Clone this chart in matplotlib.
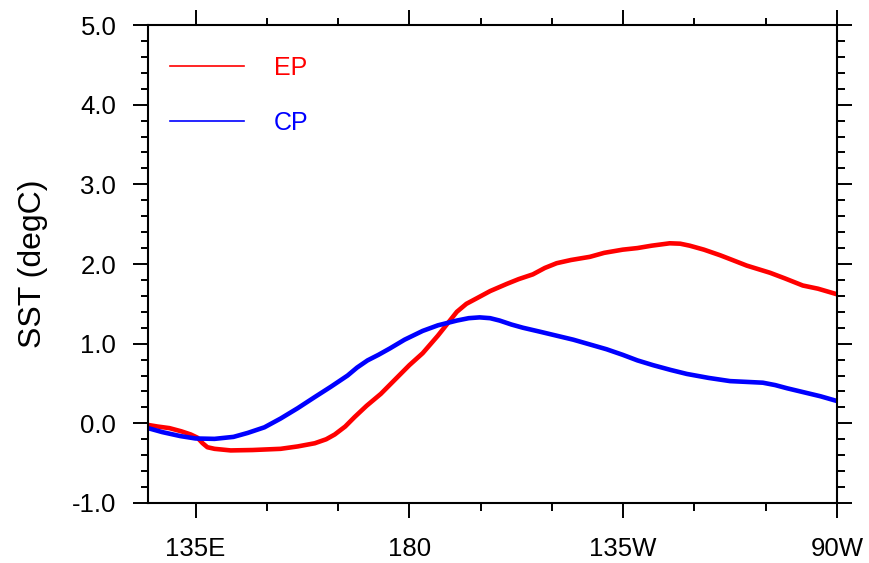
import matplotlib
matplotlib.use("Agg")
import matplotlib.pyplot as plt
from matplotlib.lines import Line2D
from matplotlib.ticker import MultipleLocator, FixedLocator

plt.rcParams['font.family'] = ['Liberation Sans', 'DejaVu Sans']

# Data (longitude in degrees east, SST anomaly in degC)
ep_lon = [125, 127, 129.5, 132, 134, 135.4, 136.5, 137.5, 139, 142.4,
          147, 152.9, 156.5, 160.1, 162.5, 164.3, 166.5, 168.5, 171, 174,
          177.5, 180, 182.8, 186, 188, 190, 192, 194.2, 197, 200.5,
          203, 206, 208.5, 211, 214, 218, 221, 224.9, 228, 231,
          234.8, 237, 239, 242, 245.4, 248, 251, 255.9, 259, 262.8,
          266, 270]
ep_sst = [-0.02, -0.04, -0.06, -0.10, -0.14, -0.18, -0.25, -0.30, -0.32, -0.34,
          -0.335, -0.32, -0.29, -0.25, -0.20, -0.14, -0.04, 0.08, 0.22, 0.37,
          0.58, 0.73, 0.88, 1.10, 1.25, 1.40, 1.50, 1.57, 1.66, 1.75,
          1.81, 1.87, 1.95, 2.01, 2.05, 2.09, 2.14, 2.18, 2.20, 2.23,
          2.26, 2.255, 2.23, 2.18, 2.11, 2.05, 1.98, 1.89, 1.82, 1.73,
          1.69, 1.62]

cp_lon = [125, 128, 131.8, 135, 139, 143, 146, 149.5, 152.9, 156.5,
          160.1, 163.5, 167, 169, 171.2, 173.5, 175.9, 179, 182.8, 186,
          190, 192.5, 194.8, 197, 199, 201.5, 203.9, 207.5, 211, 214.5,
          218, 221.5, 224.9, 228, 231.3, 235, 238.4, 243, 247.5, 251,
          254.4, 257, 259.5, 263, 266.5, 270]
cp_sst = [-0.06, -0.11, -0.16, -0.19, -0.195, -0.17, -0.12, -0.05, 0.06, 0.19,
          0.33, 0.46, 0.60, 0.70, 0.79, 0.86, 0.94, 1.05, 1.16, 1.23,
          1.29, 1.32, 1.33, 1.32, 1.29, 1.24, 1.20, 1.15, 1.10, 1.05,
          0.99, 0.93, 0.86, 0.79, 0.73, 0.67, 0.62, 0.57, 0.53, 0.52,
          0.51, 0.48, 0.44, 0.39, 0.34, 0.28]

series_labels = ["EP", "CP"]
series_colors = ["#ff0000", "#0000ff"]

xtick_pos = [135, 180, 225, 270]
xtick_labels = ["135E", "180", "135W", "90W"]
xminor_pos = [150, 165, 195, 210, 240, 255]
ytick_pos = [-1, 0, 1, 2, 3, 4, 5]

fig = plt.figure(figsize=(8.69, 5.63), dpi=100)
ax = fig.add_axes([148/869, 60/563, 689/869, 478/563])

ax.plot(ep_lon, ep_sst, color=series_colors[0], lw=3.3, solid_joinstyle='round')
ax.plot(cp_lon, cp_sst, color=series_colors[1], lw=3.3, solid_joinstyle='round')

ax.set_xlim(125, 270)
ax.set_ylim(-1, 5)

ax.xaxis.set_major_locator(FixedLocator(xtick_pos))
ax.set_xticklabels(xtick_labels)
ax.xaxis.set_minor_locator(FixedLocator(xminor_pos))
ax.yaxis.set_major_locator(FixedLocator(ytick_pos))
ax.set_yticklabels(["%.1f" % v for v in ytick_pos])
ax.yaxis.set_minor_locator(MultipleLocator(0.2))

ax.tick_params(which='both', direction='out', top=True, right=True,
               width=1.4, colors='black')
ax.tick_params(which='major', length=10.8, labelsize=18.5, pad=12)
ax.tick_params(which='minor', length=5.4)
ax.tick_params(axis='x', which='major', pad=14)

for s in ax.spines.values():
    s.set_linewidth(1.5)

ax.set_ylabel("SST (degC)", fontsize=23)
ax.yaxis.set_label_coords(-0.145, 0.5)

handles = [Line2D([], [], color=c, lw=1.2) for c in series_colors]
leg = ax.legend(handles, series_labels, loc='upper left',
                bbox_to_anchor=(0.032, 0.936), borderaxespad=0, borderpad=0,
                frameon=False, fontsize=18, handlelength=2.95,
                handletextpad=1.2, labelspacing=1.25)
for t, c in zip(leg.get_texts(), series_colors):
    t.set_color(c)

fig.savefig("out.png", dpi=100)
